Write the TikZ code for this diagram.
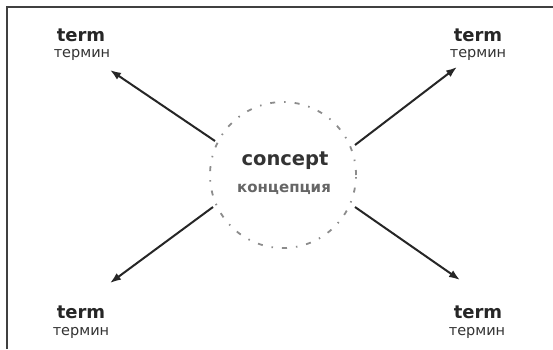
\documentclass[tikz,border=0pt]{standalone}
\usepackage{fontspec}
\setmainfont{DejaVu Sans}
\usetikzlibrary{arrows.meta}
\begin{document}
\begin{tikzpicture}[x=1pt,y=-1pt,
  termword/.style={font=\bfseries\fontsize{18}{18}\selectfont, text=black!85, inner sep=0pt},
  termru/.style={font=\fontsize{14.5}{14.5}\selectfont, text=black!80, inner sep=0pt},
  link/.style={draw=black!85, line width=2pt, -{Latex[length=11pt,width=8pt]}},
  frameline/.style={draw=black!75, line width=2pt}]
\useasboundingbox (0,0) rectangle (553,349);
\fill[white] (0,0) rectangle (553,349);
% open frame: top and left edges
\draw[frameline] (7,349) -- (7,7) -- (553,7);
% concept circle
\node[circle, minimum size=146pt, draw=black!45, line width=1.8pt,
      dash pattern=on 5pt off 9pt on 1.5pt off 9pt] (c) at (283,175) {};
\node[font=\bfseries\fontsize{19.5}{19.5}\selectfont, text=black!80, inner sep=0pt] (cen) at (285,161) {concept};
\node[font=\bfseries\fontsize{15}{15}\selectfont, text=black!60, inner sep=0pt] (cru) at (284,189) {концепция};
% terms
\node[termword] (t1) at (81,35) {term};
\node[termru] (r1) at (82,55) {термин};
\node[termword] (t2) at (478,35) {term};
\node[termru] (r2) at (478,55) {термин};
\node[termword] (t3) at (81,312) {term};
\node[termru] (r3) at (81,333) {термин};
\node[termword] (t4) at (478,312) {term};
\node[termru] (r4) at (477,333) {термин};
% arrow anchors
\coordinate (a1s) at (215,141); \coordinate (a1e) at (110,70);
\coordinate (a2s) at (355,145); \coordinate (a2e) at (457,67);
\coordinate (a3s) at (213,207); \coordinate (a3e) at (110,283);
\coordinate (a4s) at (355,207); \coordinate (a4e) at (460,280);
\draw[link] (a1s) -- (a1e);
\draw[link] (a2s) -- (a2e);
\draw[link] (a3s) -- (a3e);
\draw[link] (a4s) -- (a4e);
\end{tikzpicture}
\end{document}
